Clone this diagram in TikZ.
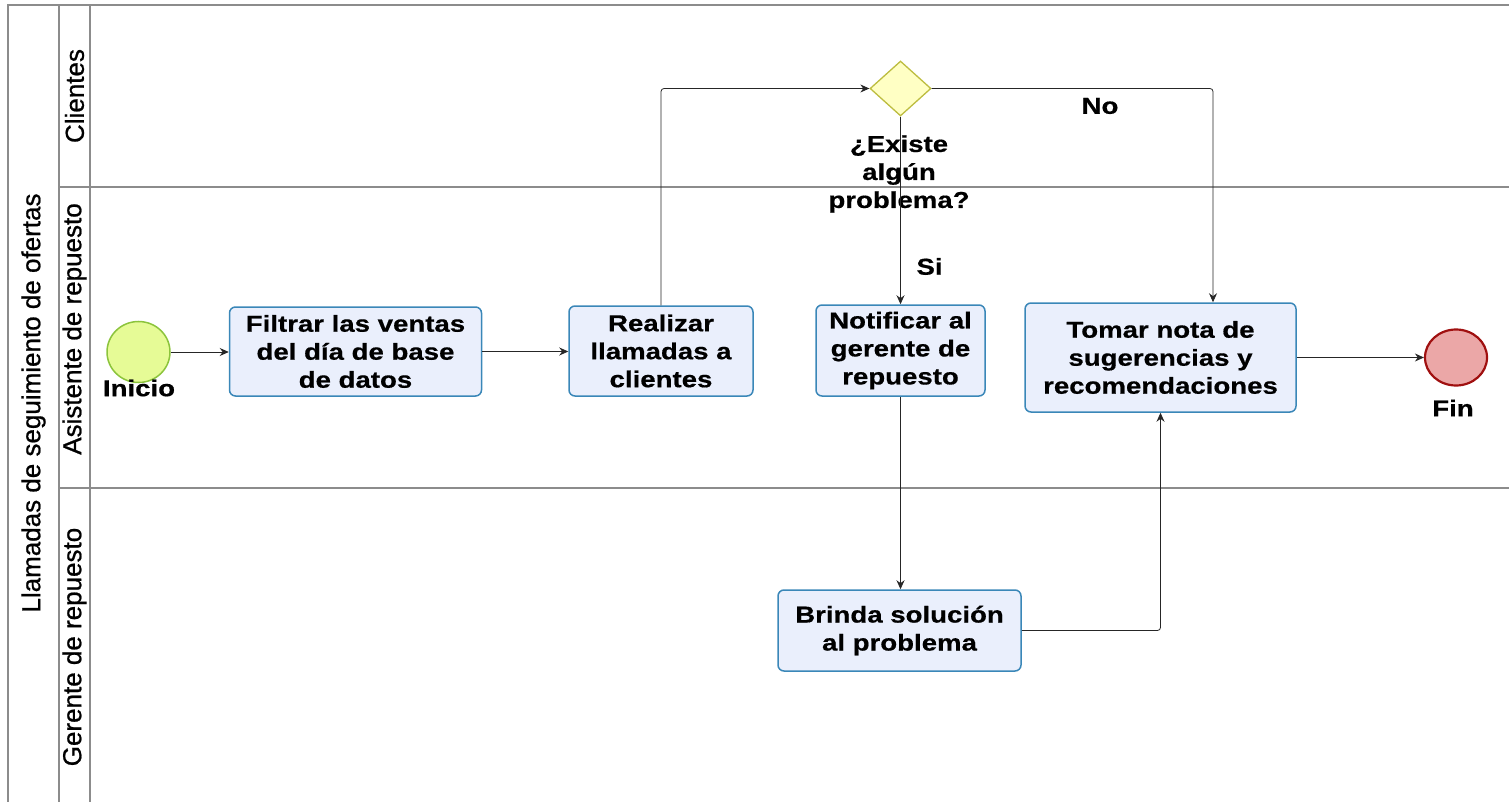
\documentclass[tikz,border=0pt]{standalone}
\usepackage{fontspec}
\setmainfont{Liberation Sans}
\newfontfamily\widebold{Liberation Sans}[FakeStretch=1.2,BoldFont={Liberation Sans Bold},BoldFeatures={FakeBold=0.6}]
\newfontfamily\lanefont{Liberation Sans}[FakeBold=0.8]
\usetikzlibrary{arrows.meta,shapes.geometric}
\definecolor{taskfill}{HTML}{EAEFFC}
\definecolor{taskline}{HTML}{3A87B8}
\definecolor{startfill}{HTML}{E6FB96}
\definecolor{startline}{HTML}{8CC43C}
\definecolor{endfill}{HTML}{EBA7A7}
\definecolor{endline}{HTML}{A01010}
\definecolor{gwfill}{HTML}{FFFFC4}
\definecolor{gwline}{HTML}{BDBD40}
\definecolor{laneline}{HTML}{8C8C8C}
\tikzset{
  txt/.style={font=\widebold\bfseries\fontsize{23}{28}\selectfont, align=center, inner sep=0pt},
  task/.style={txt, draw=taskline, line width=1.5pt, fill=taskfill, rounded corners=6pt, anchor=center},
  lanelbl/.style={font=\lanefont\fontsize{26}{30}\selectfont, rotate=90, inner sep=0pt},
  flow/.style={draw=black!85, line width=0.8pt, rounded corners=3pt, -{Stealth[length=9pt,width=8pt]}},
  lanesep/.style={draw=laneline, line width=1.3pt}
}
\begin{document}
\begin{tikzpicture}[x=1pt,y=-1pt]
\useasboundingbox (0,0) rectangle (1509,802);
% pool and lanes
\draw[lanesep] (1509,5) -- (8,5) -- (8,802);
\draw[lanesep] (59,5) -- (59,802);
\draw[lanesep] (90,5) -- (90,802);
\draw[lanesep] (59,187) -- (1509,187);
\draw[lanesep] (59,488) -- (1509,488);
\node[lanelbl] (pool) at (33.5,403) {Llamadas de seguimiento de ofertas};
\node[lanelbl] (l1) at (74.5,96) {Clientes};
\node[lanelbl] (l2) at (74.5,329) {Asistente de repuesto};
\node[lanelbl] (l3) at (74.5,647) {Gerente de repuesto};
% nodes
\node[ellipse, draw=startline, fill=startfill, line width=1.5pt, minimum width=63pt, minimum height=61pt, inner sep=0pt] (start) at (138.5,352) {};
\node[txt] (inicio) at (139,388) {Inicio};
\node[task, minimum width=252pt, minimum height=89pt] (t1) at (355.5,351.5) {Filtrar las ventas\\del día de base\\de datos};
\node[task, minimum width=184pt, minimum height=90pt] (t2) at (661,351) {Realizar\\llamadas a\\clientes};
\node[diamond, draw=gwline, fill=gwfill, line width=1.3pt, minimum width=61pt, minimum height=55pt, inner sep=0pt] (gw) at (900.5,88.5) {};
\node[txt] (gwl) at (899,174) {¿Existe\\algún\\problema?};
\node[task, minimum width=169pt, minimum height=91pt] (t3) at (900.5,350.5) {Notificar al\\gerente de\\repuesto};
\node[task, minimum width=271pt, minimum height=109pt] (t4) at (1160.5,357.5) {Tomar nota de\\sugerencias y\\recomendaciones};
\node[task, minimum width=243pt, minimum height=81pt] (t5) at (899.5,630.5) {Brinda solución\\al problema};
\node[ellipse, draw=endline, fill=endfill, line width=2.2pt, minimum width=62pt, minimum height=56pt, inner sep=0pt] (end) at (1456,357.5) {};
\node[txt] (fin) at (1453,408) {Fin};
\node[txt] (si) at (929.5,266.5) {Si};
\node[txt] (no) at (1100,106) {No};
% flows
\draw[flow] (start.east) -- (start.east -| t1.west);
\draw[flow] (t1.east) -- (t1.east -| t2.west);
\draw[flow] (t2.north) |- (gw.west);
\draw[flow] (gw.south) -- (t3.north);
\draw[flow] (gw.east) -| ([xshift=52.5pt]t4.north);
\draw[flow] (t3.south) -- (t3.south |- t5.north);
\draw[flow] (t5.east) -| (t4.south);
\draw[flow] (t4.east) -- (t4.east -| end.west);
\end{tikzpicture}
\end{document}
